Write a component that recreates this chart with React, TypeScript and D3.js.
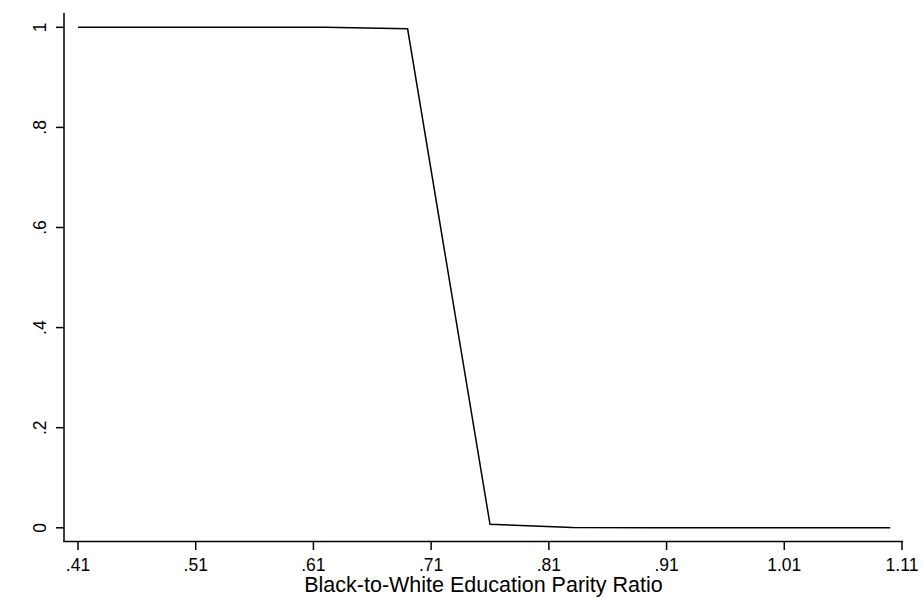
import React, { useEffect, useRef } from 'react';
import * as d3 from 'd3';

// parity ratio grid and predicted probability
const ratios = [0.41, 0.48, 0.55, 0.62, 0.69, 0.76, 0.83, 0.9, 0.97, 1.04, 1.1];
const probs = [1, 1, 1, 1, 0.997, 0.007, 0.0005, 0, 0, 0, 0];
const xTicks = [0.41, 0.51, 0.61, 0.71, 0.81, 0.91, 1.01, 1.11];
const yTicks = [0, 0.2, 0.4, 0.6, 0.8, 1];
const xTitle = 'Black-to-White Education Parity Ratio';

export default function App() {
  const ref = useRef<SVGSVGElement>(null);
  const width = 922;
  const height = 599;

  useEffect(() => {
    const svg = d3.select(ref.current);
    svg.selectAll('*').remove();

    const x = d3.scaleLinear().domain([0.41, 1.11]).range([78, 902]);
    const y = d3.scaleLinear().domain([0, 1]).range([527.8, 27.3]);
    const font = 'Liberation Sans, Arial, sans-serif';

    // axis lines
    svg.append('line')
      .attr('x1', 64).attr('x2', 64).attr('y1', 13).attr('y2', 541.5)
      .attr('stroke', '#000').attr('stroke-width', 1.5);
    svg.append('line')
      .attr('x1', 63.25).attr('x2', 903).attr('y1', 541.5).attr('y2', 541.5)
      .attr('stroke', '#000').attr('stroke-width', 1.5);

    // x ticks
    const xg = svg.append('g');
    xg.selectAll('line').data(xTicks).enter().append('line')
      .attr('x1', (d) => x(d)).attr('x2', (d) => x(d))
      .attr('y1', 541.5).attr('y2', 550)
      .attr('stroke', '#000').attr('stroke-width', 1.5);
    xg.selectAll('text').data(xTicks).enter().append('text')
      .attr('x', (d) => x(d)).attr('y', 571)
      .attr('text-anchor', 'middle')
      .attr('font-family', font).attr('font-size', 17.5)
      .text((d) => (d < 1 ? d3.format('.2f')(d).replace(/^0/, '') : d3.format('.2f')(d)));

    // y ticks
    const yg = svg.append('g');
    yg.selectAll('line').data(yTicks).enter().append('line')
      .attr('x1', 56).attr('x2', 64)
      .attr('y1', (d) => y(d)).attr('y2', (d) => y(d))
      .attr('stroke', '#000').attr('stroke-width', 1.5);
    yg.selectAll('text').data(yTicks).enter().append('text')
      .attr('transform', (d) => 'translate(46,' + y(d) + ') rotate(-90)')
      .attr('text-anchor', 'middle')
      .attr('font-family', font).attr('font-size', 17.5)
      .text((d) => (d === 0 || d === 1 ? String(d) : d3.format('.1f')(d).replace(/^0/, '')));

    // axis title
    svg.append('text')
      .attr('x', 483.5).attr('y', 591.5)
      .attr('text-anchor', 'middle')
      .attr('font-family', font).attr('font-size', 21.5)
      .text(xTitle);

    // the curve
    const line = d3.line<number>()
      .x((d, i) => x(ratios[i]))
      .y((d) => y(d));
    svg.append('path')
      .datum(probs)
      .attr('d', line)
      .attr('fill', 'none')
      .attr('stroke', '#000')
      .attr('stroke-width', 1.5);
  }, []);

  return (
    <svg
      ref={ref}
      width={width}
      height={height}
      style={{ position: 'absolute', left: 0, top: 0, background: '#fff' }}
    />
  );
}
